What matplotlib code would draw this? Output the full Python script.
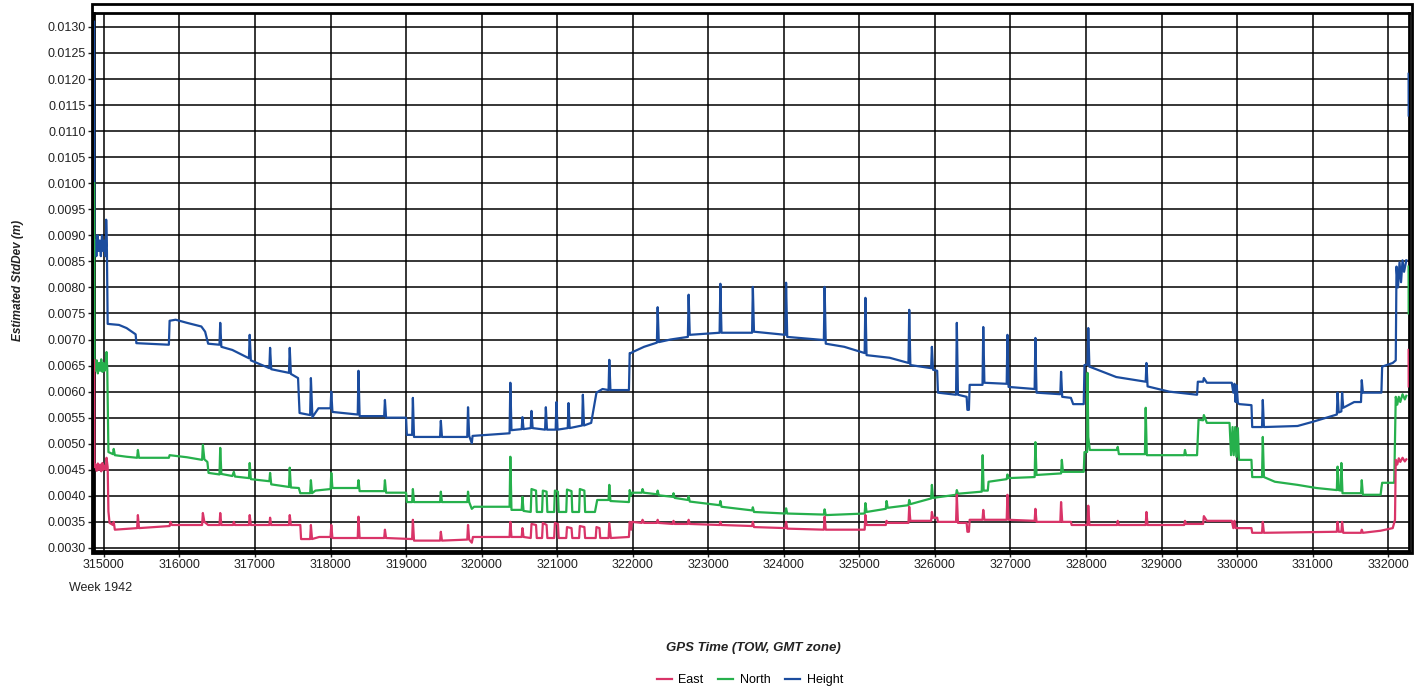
import numpy as np
import matplotlib
matplotlib.use('Agg')
import matplotlib.pyplot as plt
from matplotlib.patches import Rectangle
from matplotlib.ticker import MultipleLocator, FormatStrFormatter

plt.rcParams['font.family'] = ['Liberation Sans', 'DejaVu Sans']

nan = float('nan')

# (GPS time of week, estimated std dev in m); nan = gap before the last record at the edge
height = [
    (314870, 0.0131), (314875, 0.0087), (314890, 0.0089), (314900, 0.0086), (314915, 0.0090),
    (314930, 0.0087), (314945, 0.0089), (314960, 0.0086), (314975, 0.0090), (314990, 0.0087),
    (315005, 0.0089), (315020, 0.0086), (315028, 0.0088), (315030, 0.0093), (315040, 0.0087),
    (315050, 0.0073), (315200, 0.00728), (315300, 0.00722), (315420, 0.00710), (315430, 0.00693),
    (315860, 0.00690), (315870, 0.00736), (315950, 0.00738), (316100, 0.00732), (316290, 0.00725),
    (316340, 0.00715), (316380, 0.00692), (316530, 0.00690), (316540, 0.00732), (316555, 0.00686),
    (316700, 0.00680), (316920, 0.00664), (316930, 0.00709), (316945, 0.00660), (317190, 0.00645),
    (317200, 0.00684), (317215, 0.00643), (317450, 0.00636), (317460, 0.00684), (317475, 0.00634),
    (317570, 0.00626), (317590, 0.00559), (317730, 0.00555), (317740, 0.00626), (317760, 0.00551),
    (317840, 0.00568), (318000, 0.00568), (318010, 0.00600), (318025, 0.00561), (318360, 0.00556),
    (318370, 0.00640), (318385, 0.00553), (318710, 0.00553), (318720, 0.00584), (318735, 0.00550),
    (319000, 0.00550), (319010, 0.00517), (319080, 0.00517), (319090, 0.00588), (319105, 0.00513),
    (319450, 0.00513), (319460, 0.00544), (319475, 0.00513), (319810, 0.00513), (319820, 0.00570),
    (319835, 0.00515), (319870, 0.00501), (319880, 0.00515), (320370, 0.00520), (320380, 0.00617),
    (320395, 0.00526), (320530, 0.00528), (320540, 0.00551), (320555, 0.00528), (320650, 0.00530),
    (320660, 0.00563), (320675, 0.00530), (320840, 0.00527), (320850, 0.00570), (320865, 0.00527),
    (320980, 0.00527), (320990, 0.00580), (321005, 0.00527), (321140, 0.00530), (321150, 0.00578),
    (321165, 0.00530), (321330, 0.00535), (321340, 0.00594), (321355, 0.00535), (321450, 0.00540),
    (321520, 0.00598), (321600, 0.00605), (321680, 0.00603), (321690, 0.00661), (321705, 0.00603),
    (321950, 0.00603), (321960, 0.00674), (321975, 0.00674), (322000, 0.00676), (322150, 0.00686),
    (322320, 0.00694), (322330, 0.00762), (322345, 0.00695), (322500, 0.00700), (322730, 0.00705),
    (322740, 0.00786), (322755, 0.00709), (323150, 0.00713), (323160, 0.00807), (323175, 0.00713),
    (323580, 0.00713), (323590, 0.00801), (323605, 0.00715), (324020, 0.00709), (324030, 0.00809),
    (324045, 0.00705), (324530, 0.00699), (324540, 0.00801), (324555, 0.00692), (324800, 0.00686),
    (325070, 0.00674), (325080, 0.00780), (325095, 0.00670), (325400, 0.00665), (325650, 0.00655),
    (325660, 0.00757), (325675, 0.00651), (325950, 0.00645), (325960, 0.00686), (325975, 0.00642),
    (326030, 0.00640), (326040, 0.00598), (326280, 0.00594), (326290, 0.00732), (326305, 0.00594),
    (326420, 0.00590), (326430, 0.00565), (326450, 0.00565), (326460, 0.00613), (326630, 0.00613),
    (326640, 0.00724), (326655, 0.00617), (326950, 0.00615), (326960, 0.00709), (326975, 0.00609),
    (327320, 0.00605), (327330, 0.00703), (327345, 0.00598), (327660, 0.00595), (327670, 0.00638),
    (327685, 0.00590), (327800, 0.00588), (327830, 0.00576), (327970, 0.00576), (327980, 0.00651),
    (328020, 0.00652), (328030, 0.00722), (328045, 0.00648), (328400, 0.00628), (328790, 0.00619),
    (328800, 0.00655), (328815, 0.00610), (329100, 0.00600), (329470, 0.00594), (329480, 0.00619),
    (329550, 0.00619), (329560, 0.00626), (329600, 0.00617), (329930, 0.00617), (329950, 0.00598),
    (329965, 0.00615), (329980, 0.00580), (329995, 0.00612), (330010, 0.00578), (330030, 0.00576),
    (330190, 0.00574), (330200, 0.00532), (330330, 0.00532), (330340, 0.00584), (330355, 0.00532),
    (330800, 0.00534), (331000, 0.00542), (331320, 0.00556), (331330, 0.00598), (331345, 0.00560),
    (331380, 0.00562), (331390, 0.00598), (331405, 0.00569), (331550, 0.00580), (331640, 0.00580),
    (331650, 0.00622), (331665, 0.00598), (331910, 0.00598), (331920, 0.00648), (332060, 0.00655),
    (332100, 0.00660), (332110, 0.00840), (332130, 0.00800), (332150, 0.00848), (332170, 0.00810),
    (332190, 0.00852), (332210, 0.00830), (332240, 0.00852), (332250, nan), (332270, 0.0121),
    (332271, 0.0113),
]

north = [
    (314870, 0.0100), (314875, 0.00650), (314890, 0.00640), (314905, 0.00660), (314920, 0.00635),
    (314935, 0.00655), (314950, 0.00640), (314965, 0.00662), (314980, 0.00638), (314995, 0.00655),
    (315010, 0.00640), (315025, 0.00650), (315035, 0.00676), (315045, 0.00640), (315060, 0.00484),
    (315120, 0.00480), (315130, 0.00490), (315145, 0.00478), (315300, 0.00475), (315440, 0.00473),
    (315450, 0.00488), (315465, 0.00473), (315860, 0.00473), (315870, 0.00478), (316100, 0.00474),
    (316300, 0.00469), (316310, 0.00498), (316330, 0.00470), (316370, 0.00465), (316385, 0.00444),
    (316530, 0.00441), (316540, 0.00492), (316555, 0.00442), (316700, 0.00438), (316720, 0.00446),
    (316735, 0.00437), (316920, 0.00434), (316930, 0.00463), (316945, 0.00432), (317190, 0.00428),
    (317200, 0.00444), (317215, 0.00422), (317450, 0.00417), (317460, 0.00454), (317475, 0.00416),
    (317580, 0.00415), (317600, 0.00405), (317730, 0.00405), (317740, 0.00430), (317755, 0.00405),
    (317800, 0.00410), (318000, 0.00413), (318010, 0.00444), (318025, 0.00415), (318360, 0.00415),
    (318370, 0.00430), (318385, 0.00409), (318710, 0.00409), (318720, 0.00430), (318735, 0.00406),
    (319000, 0.00406), (319010, 0.00388), (319080, 0.00388), (319090, 0.00413), (319105, 0.00388),
    (319450, 0.00388), (319460, 0.00408), (319475, 0.00388), (319810, 0.00388), (319820, 0.00408),
    (319835, 0.00388), (319870, 0.00375), (319900, 0.00379), (320370, 0.00379), (320380, 0.00475),
    (320395, 0.00373), (320530, 0.00373), (320540, 0.00398), (320555, 0.00371), (320650, 0.00369),
    (320660, 0.00413), (320720, 0.00410), (320730, 0.00369), (320800, 0.00369), (320810, 0.00410),
    (320860, 0.00408), (320870, 0.00369), (320960, 0.00369), (320970, 0.00410), (321010, 0.00408),
    (321020, 0.00369), (321120, 0.00369), (321130, 0.00412), (321190, 0.00409), (321200, 0.00369),
    (321290, 0.00369), (321300, 0.00413), (321360, 0.00410), (321370, 0.00369), (321500, 0.00369),
    (321530, 0.00392), (321680, 0.00392), (321690, 0.00421), (321705, 0.00390), (321950, 0.00388),
    (321960, 0.00411), (321975, 0.00400), (321990, 0.00406), (322120, 0.00406), (322130, 0.00413),
    (322145, 0.00406), (322320, 0.00403), (322330, 0.00410), (322345, 0.00401), (322530, 0.00398),
    (322540, 0.00405), (322555, 0.00396), (322730, 0.00392), (322740, 0.00399), (322755, 0.00389),
    (323150, 0.00382), (323160, 0.00390), (323175, 0.00379), (323580, 0.00372), (323590, 0.00378),
    (323605, 0.00369), (324020, 0.00366), (324030, 0.00376), (324045, 0.00366), (324530, 0.00364),
    (324540, 0.00374), (324555, 0.00363), (325070, 0.00366), (325080, 0.00386), (325095, 0.00369),
    (325350, 0.00375), (325360, 0.00390), (325375, 0.00377), (325650, 0.00382), (325660, 0.00392),
    (325675, 0.00384), (325950, 0.00395), (325960, 0.00421), (325975, 0.00396), (326280, 0.00402),
    (326290, 0.00411), (326305, 0.00404), (326620, 0.00408), (326625, 0.00440), (326632, 0.00478),
    (326645, 0.00410), (326700, 0.00410), (326710, 0.00427), (326950, 0.00432), (326960, 0.00441),
    (326975, 0.00434), (327320, 0.00436), (327330, 0.00503), (327345, 0.00440), (327670, 0.00443),
    (327680, 0.00469), (327695, 0.00446), (327970, 0.00446), (327980, 0.00484), (328015, 0.00484),
    (328020, 0.00636), (328030, 0.00513), (328050, 0.00488), (328410, 0.00488), (328420, 0.00494),
    (328435, 0.00480), (328780, 0.00480), (328790, 0.00569), (328805, 0.00478), (329300, 0.00478),
    (329310, 0.00488), (329325, 0.00478), (329470, 0.00478), (329490, 0.00546), (329550, 0.00545),
    (329560, 0.00555), (329600, 0.00540), (329900, 0.00540), (329920, 0.00478), (329940, 0.00532),
    (329955, 0.00478), (329975, 0.00532), (329990, 0.00475), (330010, 0.00530), (330025, 0.00469),
    (330190, 0.00469), (330200, 0.00436), (330330, 0.00436), (330340, 0.00513), (330355, 0.00436),
    (330500, 0.00427), (330800, 0.00421), (331050, 0.00415), (331320, 0.00411), (331330, 0.00456),
    (331345, 0.00411), (331370, 0.00410), (331380, 0.00463), (331395, 0.00405), (331640, 0.00405),
    (331650, 0.00430), (331665, 0.00402), (331900, 0.00402), (331910, 0.00415), (331920, 0.00425),
    (332080, 0.00425), (332100, 0.00590), (332120, 0.00575), (332140, 0.00590), (332160, 0.00580),
    (332190, 0.00595), (332220, 0.00585), (332240, 0.00592), (332250, nan), (332270, 0.0084),
    (332271, 0.0075),
]

east = [
    (314870, 0.00660), (314875, 0.00455), (314890, 0.00460), (314905, 0.00448), (314920, 0.00462),
    (314935, 0.00450), (314950, 0.00460), (314965, 0.00447), (314980, 0.00463), (314995, 0.00450),
    (315010, 0.00458), (315025, 0.00450), (315035, 0.00473), (315050, 0.00455), (315060, 0.00370),
    (315075, 0.00348), (315120, 0.00344), (315130, 0.00350), (315145, 0.00335), (315440, 0.00338),
    (315450, 0.00363), (315465, 0.00338), (315870, 0.00342), (315880, 0.00350), (315900, 0.00344),
    (316300, 0.00344), (316310, 0.00367), (316330, 0.00350), (316380, 0.00344), (316530, 0.00344),
    (316540, 0.00367), (316555, 0.00344), (316710, 0.00344), (316720, 0.00350), (316735, 0.00344),
    (316920, 0.00344), (316930, 0.00363), (316945, 0.00344), (317190, 0.00344), (317200, 0.00358),
    (317215, 0.00344), (317450, 0.00344), (317460, 0.00363), (317475, 0.00344), (317600, 0.00344),
    (317610, 0.00317), (317730, 0.00317), (317740, 0.00344), (317755, 0.00317), (317850, 0.00321),
    (318000, 0.00321), (318010, 0.00344), (318025, 0.00319), (318360, 0.00319), (318370, 0.00360),
    (318385, 0.00319), (318710, 0.00319), (318720, 0.00335), (318735, 0.00319), (319080, 0.00317),
    (319090, 0.00354), (319105, 0.00314), (319450, 0.00314), (319460, 0.00331), (319475, 0.00314),
    (319810, 0.00316), (319820, 0.00344), (319835, 0.00316), (319870, 0.00310), (319885, 0.00321),
    (320370, 0.00321), (320380, 0.00350), (320395, 0.00321), (320530, 0.00321), (320540, 0.00338),
    (320555, 0.00321), (320650, 0.00319), (320660, 0.00346), (320720, 0.00344), (320730, 0.00319),
    (320800, 0.00319), (320810, 0.00348), (320860, 0.00344), (320870, 0.00319), (320960, 0.00319),
    (320970, 0.00348), (321010, 0.00346), (321020, 0.00319), (321120, 0.00319), (321130, 0.00340),
    (321190, 0.00338), (321200, 0.00319), (321290, 0.00319), (321300, 0.00342), (321360, 0.00340),
    (321370, 0.00319), (321510, 0.00319), (321520, 0.00340), (321560, 0.00338), (321570, 0.00319),
    (321680, 0.00319), (321690, 0.00348), (321710, 0.00319), (321950, 0.00321), (321960, 0.00350),
    (321980, 0.00335), (321990, 0.00350), (322120, 0.00348), (322130, 0.00354), (322150, 0.00348),
    (322320, 0.00348), (322330, 0.00354), (322345, 0.00348), (322530, 0.00346), (322540, 0.00352),
    (322555, 0.00346), (322730, 0.00346), (322740, 0.00354), (322755, 0.00346), (323150, 0.00344),
    (323160, 0.00350), (323175, 0.00344), (323580, 0.00342), (323590, 0.00350), (323605, 0.00340),
    (324020, 0.00338), (324030, 0.00350), (324045, 0.00337), (324530, 0.00335), (324540, 0.00360),
    (324555, 0.00335), (325070, 0.00335), (325080, 0.00363), (325095, 0.00344), (325350, 0.00344),
    (325360, 0.00352), (325375, 0.00348), (325650, 0.00348), (325660, 0.00379), (325675, 0.00352),
    (325950, 0.00352), (325960, 0.00369), (325975, 0.00358), (326030, 0.00358), (326040, 0.00350),
    (326280, 0.00350), (326290, 0.00402), (326305, 0.00348), (326420, 0.00348), (326430, 0.00331),
    (326450, 0.00331), (326460, 0.00354), (326630, 0.00354), (326640, 0.00373), (326655, 0.00354),
    (326950, 0.00354), (326960, 0.00402), (326975, 0.00354), (327320, 0.00352), (327330, 0.00375),
    (327345, 0.00350), (327660, 0.00350), (327670, 0.00388), (327685, 0.00350), (327800, 0.00350),
    (327810, 0.00344), (328020, 0.00344), (328030, 0.00381), (328045, 0.00344), (328410, 0.00344),
    (328420, 0.00352), (328435, 0.00344), (328790, 0.00344), (328800, 0.00369), (328815, 0.00344),
    (329300, 0.00344), (329310, 0.00352), (329325, 0.00346), (329550, 0.00346), (329560, 0.00361),
    (329600, 0.00352), (329930, 0.00352), (329950, 0.00338), (329965, 0.00352), (329980, 0.00338),
    (330190, 0.00338), (330200, 0.00329), (330330, 0.00329), (330340, 0.00350), (330355, 0.00329),
    (331320, 0.00331), (331330, 0.00350), (331345, 0.00331), (331380, 0.00331), (331390, 0.00350),
    (331405, 0.00329), (331640, 0.00329), (331650, 0.00335), (331665, 0.00329), (331900, 0.00333),
    (332060, 0.00338), (332090, 0.00354), (332100, 0.00469), (332120, 0.00460), (332140, 0.00472),
    (332160, 0.00465), (332190, 0.00473), (332220, 0.00466), (332240, 0.00470), (332250, nan),
    (332270, 0.0068), (332271, 0.0061),
]

series_names = ['East', 'North', 'Height']
series_colors = ['#D93468', '#26B04C', '#1B4C9E']
x_ticks = list(range(315000, 333000, 1000))


def plot_stddev():
    fig = plt.figure(figsize=(14.23, 6.92), dpi=100)
    ax = fig.add_axes([0.066, 0.2037, 0.9243, 0.7775])

    # draw Height first so East sits on top like the original
    data = {'East': east, 'North': north, 'Height': height}
    for name in ['Height', 'North', 'East']:
        arr = np.array(data[name])
        color = series_colors[series_names.index(name)]
        ax.plot(arr[:, 0], arr[:, 1], color=color, lw=1.6, label=name, zorder=3)

    ax.set_xlim(314868, 332278)
    ax.set_ylim(0.00294, 0.013267)
    ax.set_xticks(x_ticks)
    ax.yaxis.set_major_locator(MultipleLocator(0.0005))
    ax.yaxis.set_major_formatter(FormatStrFormatter('%.4f'))
    ax.grid(True, color='black', lw=1.1)
    ax.set_axisbelow(True)
    ax.tick_params(labelsize=9, colors='#222222', length=4, width=1, pad=2)
    for sp in ax.spines.values():
        sp.set_linewidth(2)

    # outer frame of the plot area
    fig.patches.append(Rectangle((92 / 1423, 1 - 553 / 692), 1320 / 1423, 549 / 692,
                                 transform=fig.transFigure, fill=False,
                                 edgecolor='black', lw=2))

    fig.text(101 / 1423, 1 - 588 / 692, 'Week 1942', ha='center', va='center',
             fontsize=9, color='#222222')
    fig.text(18 / 1423, 1 - 280 / 692, 'Estimated StdDev (m)', rotation=90,
             ha='center', va='center', fontsize=8.5, style='italic', weight='bold',
             color='#222222')
    fig.text(753 / 1423, 1 - 648 / 692, 'GPS Time (TOW, GMT zone)', ha='center',
             va='center', fontsize=9.5, style='italic', weight='bold', color='#222222')

    handles, labels = ax.get_legend_handles_labels()
    order = [labels.index(n) for n in series_names]
    fig.legend([handles[i] for i in order], [labels[i] for i in order],
               loc='center', bbox_to_anchor=(750 / 1423, 1 - 680 / 692), ncol=3,
               frameon=False, fontsize=9, handlelength=1.2, columnspacing=1.2,
               handletextpad=0.5)

    fig.savefig('out.png', dpi=100)


if __name__ == "__main__":
    plot_stddev()
